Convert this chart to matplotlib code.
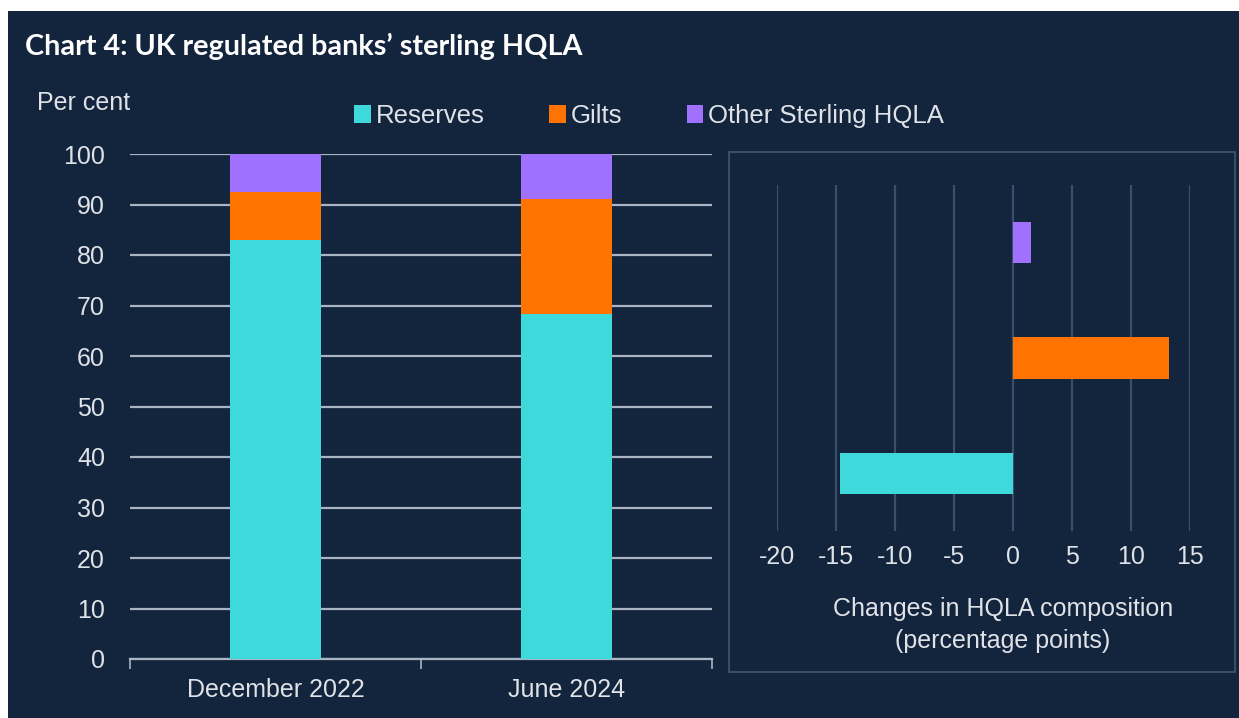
import matplotlib
matplotlib.use('Agg')
import matplotlib.pyplot as plt
from matplotlib.patches import Rectangle, Patch
import numpy as np

# data
periods = ['December 2022', 'June 2024']
series = ['Reserves', 'Gilts', 'Other Sterling HQLA']
reserves = [83.0, 68.3]
gilts = [9.5, 22.7]
other = [7.5, 9.0]
changes = [-14.7, 13.2, 1.5]   # reserves, gilts, other (percentage points)

colours = ['#3dd9db', '#ff7400', '#a070fe']
bg = '#13243d'
txt = '#dfe3e8'

W, H = 1239, 718
plt.rcParams['font.family'] = ['Liberation Sans', 'DejaVu Sans']
plt.rcParams['axes.unicode_minus'] = False

fig = plt.figure(figsize=(W / 100, H / 100), dpi=100, facecolor='white')
# dark panel with a thin white strip at top and left
fig.patches.append(Rectangle((8 / W, 0), 1, 1 - 11 / H, transform=fig.transFigure,
                             facecolor=bg, edgecolor='none', zorder=-5))

fig.text(25 / W, 1 - 46 / H, 'Chart 4: UK regulated banks\u2019 sterling HQLA',
         color='white', fontsize=20.7, fontweight='bold', family=['Lato', 'DejaVu Sans'],
         va='center', ha='left')
fig.text(37 / W, 1 - 103 / H, 'Per cent', color=txt, fontsize=18, va='center', ha='left')

# left stacked bars
ax = fig.add_axes([130 / W, 1 - 659 / H, (712 - 130) / W, (659 - 154) / H])
ax.set_facecolor('none')
x = np.arange(len(periods))
bottom = np.zeros(len(periods))
for vals, c, name in zip([reserves, gilts, other], colours, series):
    ax.bar(x, vals, width=0.31, bottom=bottom, color=c, label=name, zorder=3)
    bottom += np.array(vals)
ax.set_xlim(-0.5, 1.5)
ax.set_ylim(0, 100)
ax.set_yticks(range(0, 101, 10))
ax.set_xticks(x)
ax.set_xticklabels(periods)
ax.set_xticks([-0.5, 0.5, 1.5], minor=True)
ax.tick_params(axis='x', which='major', length=0, pad=14, labelsize=18, labelcolor=txt)
ax.tick_params(axis='x', which='minor', length=7, width=1.2, color='#aab4c3')
ax.tick_params(axis='y', length=0, pad=18, labelsize=18, labelcolor=txt)
ax.grid(axis='y', color='#aab4c3', linewidth=1.6, zorder=1)
for s in ['top', 'right', 'left']:
    ax.spines[s].set_visible(False)
ax.spines['bottom'].set_color('#aab4c3')
ax.spines['bottom'].set_linewidth(1.6)

handles = [Patch(facecolor=c, edgecolor='none') for c in colours]
fig.legend(handles, series, loc='center left', bbox_to_anchor=(354 / W, 1 - 116 / H),
           ncol=3, frameon=False, fontsize=18.5, labelcolor=txt,
           handlelength=0.65, handleheight=0.65, handletextpad=0.2,
           columnspacing=2.5, borderaxespad=0, borderpad=0)

# right panel: box and horizontal bars
fig.patches.append(Rectangle((729 / W, 1 - 672 / H), (1235 - 729) / W, (672 - 152) / H,
                             transform=fig.transFigure, facecolor='none',
                             edgecolor='#3a4d68', linewidth=1.5, zorder=-4))
ax2 = fig.add_axes([777 / W, 1 - 531 / H, (1190 - 777) / W, (531 - 185) / H])
ax2.set_facecolor('none')
ax2.barh(np.arange(len(series)), changes, height=0.36, color=colours, zorder=3)
ax2.set_xlim(-20, 15)
ax2.set_ylim(-0.5, 2.5)
ax2.set_xticks(range(-20, 16, 5))
ax2.set_yticks([])
ax2.grid(axis='x', color='#3b4f6b', linewidth=1.6, zorder=1)
ax2.tick_params(axis='x', length=0, pad=10, labelsize=18, labelcolor=txt)
for s in ax2.spines.values():
    s.set_visible(False)
fig.text(1003 / W, 1 - 625 / H, 'Changes in HQLA composition\n(percentage points)',
         color=txt, fontsize=18, ha='center', va='center', linespacing=1.4)

fig.savefig('out.png', dpi=100, facecolor='white')
